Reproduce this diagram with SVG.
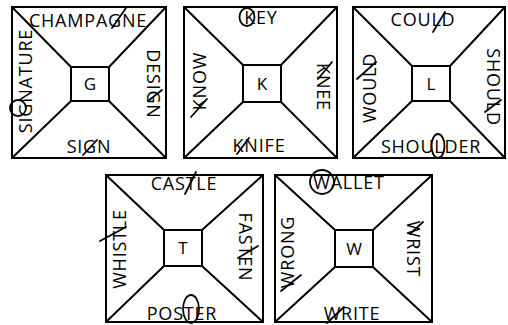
<svg xmlns="http://www.w3.org/2000/svg" width="508" height="325" viewBox="0 0 508 325">
<style>
.frame{fill:none;stroke:#000;stroke-width:2}
.t{font-family:"Open Sans","Liberation Sans",sans-serif;font-weight:400;font-size:18px;letter-spacing:0.8px;fill:#000;text-anchor:middle}
.c{font-family:"Open Sans","Liberation Sans",sans-serif;font-weight:400;font-size:17px;fill:#000;text-anchor:middle}
.mark{fill:none;stroke:#000;stroke-width:1.8;stroke-linecap:round}
</style>
<rect width="508" height="325" fill="#fff"/>

<g id="box-G">
<rect class="frame" x="12" y="7" width="154" height="151"/>
<rect class="frame" x="71" y="67" width="38" height="34"/>
<path class="frame" d="M12 7L71 67M166 7L109 67M12 158L71 101M166 158L109 101"/>
<text class="c" x="90" y="90">G</text>
<text class="t" x="88" y="27">CHAMPAGNE</text>
<text class="t" transform="translate(32,81) rotate(-90)">SIGNATURE</text>
<text class="t" transform="translate(147,84) rotate(90)">DESIGN</text>
<text class="t" x="89" y="153">SIGN</text>
<path class="mark" d="M112 28L126 8M148 101L162 90M83 155L97 140"/>
<circle class="mark" cx="18" cy="108" r="8"/>
</g>

<g id="box-K">
<rect class="frame" x="184" y="7" width="153" height="151"/>
<rect class="frame" x="243" y="65" width="38" height="37"/>
<path class="frame" d="M184 7L243 65M337 7L281 65M184 158L243 102M337 158L281 102"/>
<text class="c" x="262" y="90">K</text>
<text class="t" x="261" y="24">KEY</text>
<text class="t" transform="translate(206,81) rotate(-90)">KNOW</text>
<text class="t" transform="translate(317,87) rotate(90)">KNEE</text>
<text class="t" x="259" y="152">KNIFE</text>
<path class="mark" d="M191 117L207 99M318 79L332 62M237 154L249 138"/>
<ellipse class="mark" cx="247" cy="17" rx="7.5" ry="9"/>
</g>

<g id="box-L">
<rect class="frame" x="353" y="7" width="152" height="151"/>
<rect class="frame" x="412" y="66" width="38" height="35"/>
<path class="frame" d="M353 7L412 66M505 7L450 66M353 158L412 101M505 158L450 101"/>
<text class="c" x="431" y="90">L</text>
<text class="t" x="423" y="26">COULD</text>
<text class="t" transform="translate(376,88) rotate(-90)">WOULD</text>
<text class="t" transform="translate(487,87) rotate(90)">SHOULD</text>
<text class="t" x="431" y="153">SHOULDER</text>
<path class="mark" d="M433 32L445 12M357 79L376 62M485 112L501 100"/>
<ellipse class="mark" cx="438" cy="146" rx="6.5" ry="12"/>
</g>

<g id="box-T">
<rect class="frame" x="106" y="175" width="157" height="147"/>
<rect class="frame" x="164" y="230" width="38" height="36"/>
<path class="frame" d="M106 175L164 230M263 175L202 230M106 322L164 266M263 322L202 266"/>
<text class="c" x="183" y="254">T</text>
<text class="t" x="184" y="190">CASTLE</text>
<text class="t" transform="translate(126,249) rotate(-90)">WHISTLE</text>
<text class="t" transform="translate(239,247) rotate(90)">FASTEN</text>
<text class="t" x="182" y="320">POSTER</text>
<path class="mark" d="M185 194L196 172M100 241L126 227M238 258L258 246"/>
<ellipse class="mark" cx="191" cy="309" rx="8" ry="14"/>
</g>

<g id="box-W">
<rect class="frame" x="275" y="175" width="157" height="147"/>
<rect class="frame" x="335" y="230" width="38" height="37"/>
<path class="frame" d="M275 175L335 230M432 175L373 230M275 322L335 267M432 322L373 267"/>
<text class="c" x="354" y="255">W</text>
<text class="t" x="349" y="189">WALLET</text>
<text class="t" transform="translate(294,252) rotate(-90)">WRONG</text>
<text class="t" transform="translate(407,249) rotate(90)">WRIST</text>
<text class="t" x="352" y="320">WRITE</text>
<path class="mark" d="M281 291L301 275M410 234L423 222M327 323L344 307"/>
<circle class="mark" cx="322" cy="182" r="12"/>
</g>
</svg>
